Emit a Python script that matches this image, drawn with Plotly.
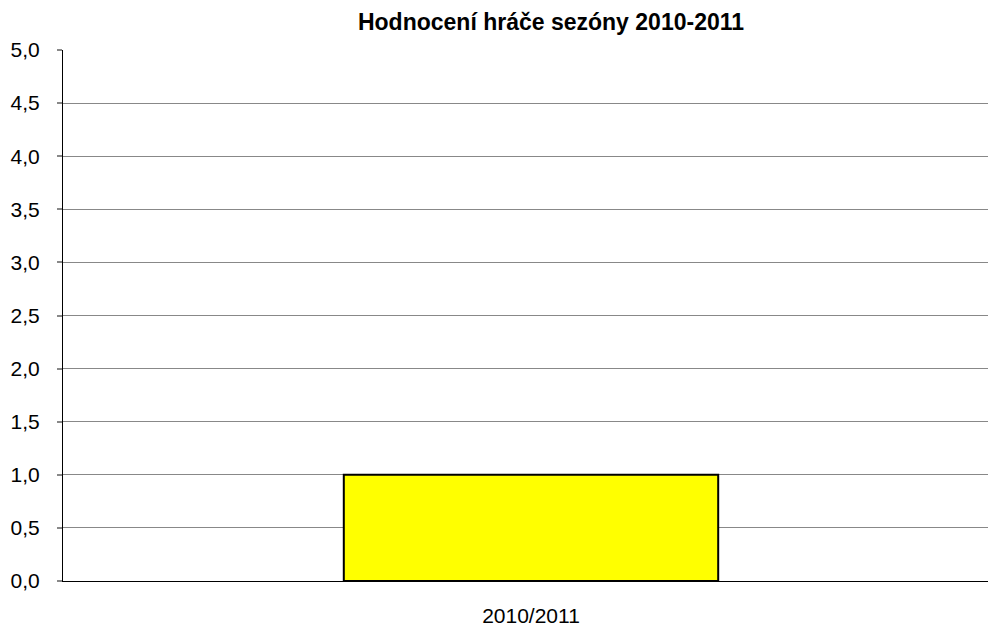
import plotly.graph_objects as go

categories = ["2010/2011"]
values = [1.0]
y_ticks = [0, 0.5, 1, 1.5, 2, 2.5, 3, 3.5, 4, 4.5, 5]
y_tick_labels = ["0,0", "0,5", "1,0", "1,5", "2,0", "2,5", "3,0", "3,5", "4,0", "4,5", "5,0"]
grid_vals = [0.5, 1, 1.5, 2, 2.5, 3, 3.5, 4, 4.5]
title = "Hodnocení hráče sezóny 2010-2011"

FONT = "Liberation Sans, Arial, sans-serif"

fig = go.Figure()
fig.add_trace(go.Bar(
    x=categories, y=values, width=0.4,
    marker=dict(color="#FFFF00", line=dict(color="#000000", width=2)),
    showlegend=False, hoverinfo="skip",
))
fig.add_trace(go.Scatter(x=categories, y=[None], yaxis="y2", showlegend=False, hoverinfo="skip"))

fig.update_layout(
    width=988, height=628,
    margin=dict(l=63, r=0, t=50, b=47, autoexpand=False),
    paper_bgcolor="white", plot_bgcolor="white",
    title=dict(text=f"<b>{title}</b>", x=551/988, xref="container", xanchor="center",
               y=1-22/628, yref="container", yanchor="middle",
               font=dict(family=FONT, size=23, color="#000000")),
    xaxis=dict(range=[-0.5, -0.5 + 925/936], showgrid=False, showline=True,
               linecolor="#000000", linewidth=1, ticks="", zeroline=False,
               ticklabelstandoff=16,
               tickfont=dict(family=FONT, size=21, color="#000000")),
    yaxis=dict(range=[0, 5], tickvals=y_ticks, ticktext=y_tick_labels, showgrid=False,
               showline=True, linecolor="#000000", linewidth=1, zeroline=False,
               ticks="outside", ticklen=5, tickcolor="#888888", tickwidth=2,
               ticklabelstandoff=13,
               tickfont=dict(family=FONT, size=21, color="#000000")),
    yaxis2=dict(range=[0, 5], overlaying="y", tickvals=grid_vals, showgrid=True,
                gridcolor="#888888", gridwidth=1, showticklabels=False, ticks="",
                showline=False, zeroline=False, layer="below traces"),
)

fig.write_html("out.html", config={"displayModeBar": False})

with open("out.html", "r", encoding="utf-8") as f:
    html = f.read()
html = html.replace("<head>", "<head><style>html,body{margin:0;padding:0;overflow:hidden;}</style>", 1)
with open("out.html", "w", encoding="utf-8") as f:
    f.write(html)
